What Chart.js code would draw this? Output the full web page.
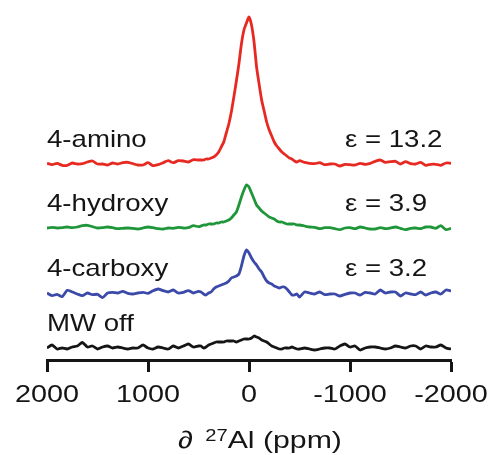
<!DOCTYPE html>
<html>
<head>
<meta charset="utf-8">
<script src="https://cdn.jsdelivr.net/npm/chart.js@4.4.1/dist/chart.umd.min.js"></script>
<style>
  html, body { margin: 0; padding: 0; background: #fff; }
  #wrap { width: 494px; height: 455px; position: relative; }
</style>
</head>
<body>
<div id="wrap"><canvas id="nmr"></canvas></div>
<script>
// chemical shift grid (ppm), finer near the peak
const ppm = [
  2000, 1950, 1900, 1850, 1800, 1750, 1700, 1650, 1600, 1550, 1500, 1450, 1400, 1350, 1300, 1250,
  1200, 1150, 1100, 1050, 1000, 950, 900, 850, 800, 750, 700, 650, 600, 550, 500,
  475, 450, 425, 400, 375, 350, 325, 300, 275, 250, 225, 200, 175, 150, 125, 100, 75, 50, 25,
  0, -25, -50, -75, -100, -125, -150, -175, -200, -225, -250, -275, -300, -325, -350, -375, -400,
  -425, -450, -475,
  -500, -550, -600, -650, -700, -750, -800, -850, -900, -950, -1000, -1050, -1100, -1150, -1200,
  -1250, -1300, -1350, -1400, -1450, -1500, -1550, -1600, -1650, -1700, -1750, -1800, -1850, -1900,
  -1950, -2000
];

const amino = [
  0.7, -0.7, 0.7, -1.3, -1.3, 1, 0, 0.3, 2, 3, 0, 0, -1, 1, 0, 1.3, 1.7, 0.3, -1, -1, 1.3, -1.7, -0.7, 1.3, 3.3, 1.3, 3.3, 3, 2, 4.3, 4,
  4, 4, 5, 5, 6, 7, 9, 12, 17, 22, 31, 40, 52, 67, 83, 100, 120, 134, 141, 147, 139, 122, 97, 80, 64, 53, 42, 34, 28, 22, 18, 15, 12, 10, 8, 6, 5, 3, 2,
  3.3, 1.7, 0.7, 0.3, 1.3, -0.7, 0, 0, -2, -0.3, -0.7, -1, 0.7, -0.3, 0.7, 2.7, 4, 1.7, 2.3, 2.7, 0, 2.3, 0.3, 0, 1.7, -1.3, -0.3, -0.3, -1.3, 1, 0.7
];
const hydroxy = [
  0, 0.7, 0, 0.3, 1, 0.3, 1, 2.3, 2.7, 1.3, 0, 0.3, 1, 0.3, -0.7, -0.3, 0, -0.3, -1, 0, 1, 0.3, -0.7, -1, 0, -0.3, 0.7, 0, 0.3, 2.3, 1.3,
  2, 3, 3, 4, 4, 4, 5, 5, 6, 6, 7, 8, 10, 13, 16, 23, 31, 38, 43, 41, 35, 29, 23, 20, 17, 15, 13, 11, 10, 9, 7, 6, 6, 5, 4, 4, 4, 4, 3,
  3, 2, 1, 0.7, -0.7, 0.3, 0.3, -0.7, -1.7, 0, 0.3, -0.7, 1, 0, -1, -1, 0.3, -0.7, 0, 1, -0.3, -1.7, -0.3, 0, -0.7, 1, 1, -0.3, 2.3, -1.7, -0.3
];
const carboxy = [
  0, -2.7, -1.3, -3.7, 2.7, 1, -1, -2.7, 0, -1.7, -1.3, -4.7, 0, 0.7, 0, 1.7, -0.3, -1, 0, 0.7, -0.3, 2.3, 4, 2.3, 1, 3, 0, 0.7, 2.3, 0, 1.7,
  1, -1, -2, 0, 1, 4, 6, 7, 8, 9, 10, 12, 15, 16, 17, 19, 27, 37, 43, 40, 35, 31, 28, 24, 21, 16, 12, 10, 9, 7, 6, 5, 6, 6, 4, 1, -2, -2, -1,
  -4, 1, 0, -1, 1, -1.7, -1, -1, -3, -1.3, 0, 0, -2, 0.7, 0, -1, 3, 0, 1, 1, -3, 0, -1, -1.7, 1, -2, 0, 1, -1, 3, 2
];
const mwOff = [
  0, 3, -1, 0, -1, 1, 2, 5.5, 1, 2, -1, 1, 2, 0, 1, 0, -1, 0, 0, 3, 0, -1, 1, 0, -1, 2, 0, 2, 4, 1, 2,
  2, 0, 1, 3, 4, 5, 6, 6, 6, 6, 7, 7, 7, 7, 6, 7, 8, 9, 9, 9, 10, 12, 11, 10, 8, 7, 6, 4, 2, 1, 0, -1, -1, 0, 0, 0, 1, 0, -1,
  -1, 0, -1, -2, -1, 0, 0, -1, 2, 4, 1, 2, -2, 0, 1, 1, 0, -1, 0, 2, 1, 0, 2, 2, -1, 2, 1, 1, 3, 0, -1
];

const sampleNames = ['4-amino', '4-hydroxy', '4-carboxy', 'MW off'];
const enhancements = ['ε = 13.2', 'ε = 3.9', 'ε = 3.2', ''];
const xTicks = [2000, 1000, 0, -1000, -2000];

// vertical stacking of the spectra
const offsets = [196, 132, 67, 12];
const colors = ['#e62a22', '#1f9639', '#3b4aa8', '#151515'];
const spectra = [amino, hydroxy, carboxy, mwOff];

const FONT = '"Liberation Sans", Arial, sans-serif';
const INK = '#151515';

// the original figure's lettering is a bit wide, so text is stretched sideways
function drawWide(ctx, text, px, py, k) {
    ctx.save();
    ctx.translate(px, py);
    ctx.scale(k, 1);
    ctx.fillText(text, 0, 0);
    ctx.restore();
}

const textLayer = {
    id: 'textLayer',
    afterDraw(chart) {
        const { ctx, scales: { x, y } } = chart;
        ctx.save();
        ctx.fillStyle = INK;

        // trace names and enhancement factors
        ctx.font = '24px ' + FONT;
        ctx.textBaseline = 'middle';
        ctx.textAlign = 'left';
        sampleNames.forEach((name, i) => {
            const py = y.getPixelForValue(offsets[i] + 24);
            drawWide(ctx, name, x.getPixelForValue(2000), py, 1.15);
            if (enhancements[i]) {
                drawWide(ctx, enhancements[i], x.getPixelForValue(-950), py, 1.15);
            }
        });

        // tick labels
        ctx.font = '24px ' + FONT;
        ctx.textAlign = 'center';
        x.ticks.forEach((t, i) => {
            drawWide(ctx, String(t.value), x.getPixelForTick(i), x.top + 35, 1.2);
        });

        // axis title with superscript mass number
        const k = 1.26;
        ctx.textAlign = 'left';
        ctx.textBaseline = 'alphabetic';
        ctx.font = '24px ' + FONT;
        const a = ctx.measureText('∂ ').width + 3;
        const c = ctx.measureText('Al (ppm)').width;
        ctx.font = '16px ' + FONT;
        const b = ctx.measureText('27').width;
        const total = (a + b + c) * k;
        let px = (x.left + x.right) / 2 + 11 - total / 2;
        const base = x.top + 88;
        ctx.font = '24px ' + FONT;
        drawWide(ctx, '∂', px, base, k);
        px += a * k;
        ctx.font = '16px ' + FONT;
        drawWide(ctx, '27', px, base - 7, k);
        px += b * k;
        ctx.font = '24px ' + FONT;
        drawWide(ctx, 'Al (ppm)', px, base, k);
        ctx.restore();
    }
};

const ctx = document.getElementById('nmr').getContext('2d');
new Chart(ctx, {
    type: 'line',
    data: {
        datasets: spectra.map((vals, i) => ({
            label: sampleNames[i],
            data: vals.map((v, k) => ({ x: ppm[k], y: v + offsets[i] })),
            borderColor: colors[i],
            borderWidth: 2.8,
            pointRadius: 0,
            tension: 0.2,
            fill: false
        }))
    },
    options: {
        responsive: true,
        maintainAspectRatio: false,
        animation: false,
        layout: { padding: { top: 10, left: 47, right: 43, bottom: 0 } },
        plugins: {
            legend: { display: false },
            tooltip: { enabled: false }
        },
        scales: {
            x: {
                type: 'linear',
                min: -2000,
                max: 2000,
                reverse: true,
                afterBuildTicks: axis => {
                    axis.ticks = xTicks.map(v => ({ value: v }));
                },
                afterFit: axis => {
                    axis.height = 95;
                },
                border: { display: true, color: INK, width: 3 },
                grid: {
                    drawOnChartArea: false,
                    drawTicks: true,
                    tickLength: 12,
                    tickWidth: 3,
                    tickColor: INK
                },
                ticks: { display: false }
            },
            y: {
                display: false,
                min: 0,
                max: 350
            }
        }
    },
    plugins: [textLayer]
});
</script>
</body>
</html>
